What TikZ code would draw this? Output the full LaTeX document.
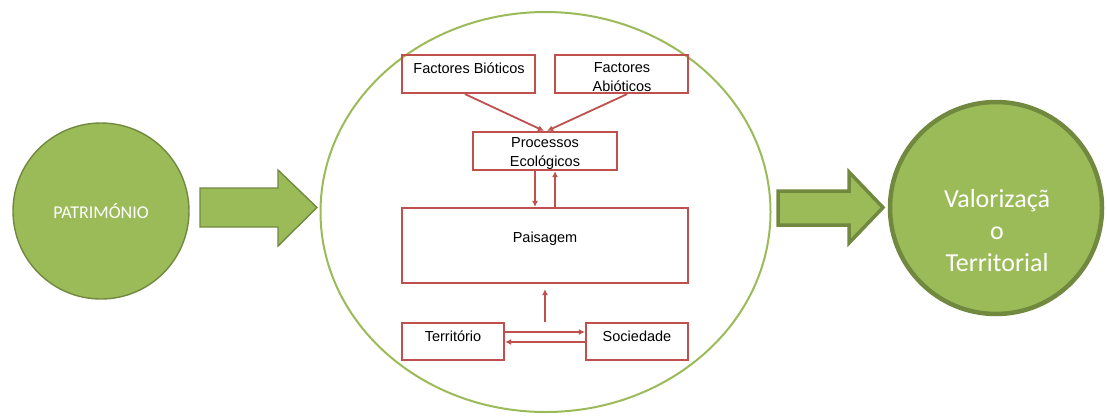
\documentclass[tikz,border=0pt]{standalone}
\usepackage{fontspec}
\setmainfont{Liberation Sans}
\newfontfamily\calibri{Carlito}
\usetikzlibrary{arrows.meta}
\definecolor{leaf}{HTML}{9BBB59}
\definecolor{leafdark}{HTML}{71893F}
\definecolor{brick}{HTML}{C0504D}
\tikzset{
  box/.style={draw=brick, line width=2.2pt, inner sep=0pt},
  boxtext/.style={align=center, inner sep=0pt, font=\fontsize{14.5}{19}\selectfont},
  link/.style={draw=brick, line width=1.8pt, -{Latex[length=6pt,width=6pt]}},
  blockarrow/.style={fill=leaf, draw=leafdark, line join=miter},
}
\begin{document}
\begin{tikzpicture}[x=1pt,y=-1pt]
\useasboundingbox (0,0) rectangle (1107,416);

% left circle
\node[circle, fill=leaf, draw=leafdark, line width=1.4pt, minimum size=176pt, inner sep=0pt,
      text=white, font=\calibri\fontsize{18}{20}\selectfont] (pat) at (101,211) {PATRIMÓNIO};

% block arrow into the central system
\path[blockarrow, line width=1.4pt]
  (200,188) -- (278,188) -- (278,170) -- (317,207.5) -- (278,246) -- (278,227) -- (200,227) -- cycle;

% central system outline
\draw[leaf, line width=2pt] (545.5,212) ellipse [x radius=225, y radius=200];

% boxes
\node[box, minimum width=133pt, minimum height=38pt] (fb) at (468.5,74) {};
\node[box, minimum width=133pt, minimum height=38pt] (fa) at (621.5,74) {};
\node[box, minimum width=144pt, minimum height=38pt] (pe) at (545,151) {};
\node[box, minimum width=286pt, minimum height=75pt] (pa) at (545,245.5) {};
\node[box, minimum width=102pt, minimum height=37pt] (te) at (453,341.5) {};
\node[box, minimum width=102pt, minimum height=37pt] (so) at (637,341.5) {};

% box texts
\node[boxtext] (fbt) at (469,68) {Factores Bióticos};
\node[boxtext] (fat) at (622,77.5) {Factores\\Abióticos};
\node[boxtext] (pet) at (545,154) {Processos\\Ecológicos};
\node[boxtext] (pat2) at (545,239) {Paisagem};
\node[boxtext] (tet) at (453,336) {Território};
\node[boxtext] (sot) at (637,336) {Sociedade};

% connectors
\draw[link] ([xshift=-3.5pt]fb.south) -- ([xshift=-1pt]pe.north);
\draw[link] ([xshift=5.5pt]fa.south) -- ([xshift=2pt]pe.north);
\draw[link] ([xshift=-10pt]pe.south) -- ([xshift=-10pt]pe.south |- pa.north);
\draw[link] ([xshift=10pt]pe.south |- pa.north) -- ([xshift=10pt]pe.south);
\coordinate (base) at (545,322);
\draw[link] (base) -- ([yshift=-5pt]pa.south);
\draw[link] ([yshift=9.5pt]te.east) -- ([yshift=9.5pt]so.west);
\draw[link] ([yshift=-0.5pt]so.west) -- ([yshift=-0.5pt]te.east);

% block arrow out of the central system
\path[blockarrow, line width=3.5pt]
  (778,191) -- (849,191) -- (849,172) -- (883,207.5) -- (849,243) -- (849,225) -- (778,225) -- cycle;

% right circle and its caption
\node[circle, fill=leaf, draw=leafdark, line width=4.5pt, minimum size=212pt, inner sep=0pt] (val) at (996,208) {};
\node[text=white, align=center, inner sep=0pt, font=\calibri\fontsize{26}{32}\selectfont] (valt) at (997,231)
      {Valorizaçã\\o\\Territorial};
\end{tikzpicture}
\end{document}
